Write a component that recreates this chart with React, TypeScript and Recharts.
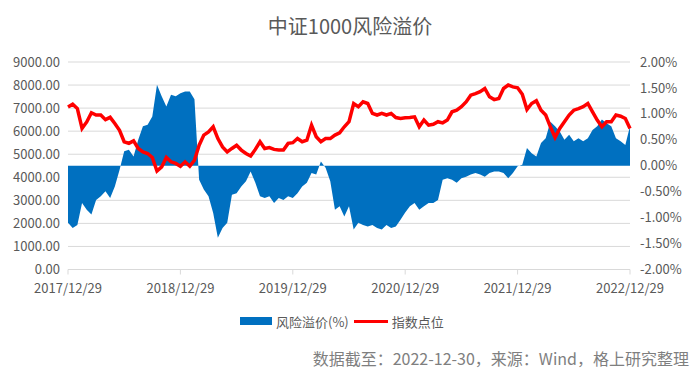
import React from "react";
import {
  ComposedChart,
  Area,
  Line,
  XAxis,
  YAxis,
  CartesianGrid,
} from "recharts";

const FONT = '"Noto Sans CJK SC", "Noto Sans", sans-serif';

// roughly semi-monthly samples, 2017/12/29 -> 2022/12/29
const indexPoints = [
  7050, 7170, 6980, 6120, 6400, 6800, 6700, 6700, 6500, 6600, 6330, 6040, 5540, 5470, 5580, 5250, 5100, 5030, 4860, 4270, 4450, 4860, 4670, 4600,
  4480, 4670, 4480, 4740, 5390, 5830, 5970, 6190, 5680, 5320, 5100, 5250, 5390, 5180, 5030, 4920, 5210, 5540, 5250, 5290, 5210, 5180, 5180, 5470,
  5500, 5680, 5540, 5610, 6260, 5760, 5540, 5680, 5680, 5830, 5930, 6190, 6410, 7200, 7060, 7270, 7200, 6770, 6700, 6770, 6700, 6770, 6590, 6550,
  6580, 6590, 6620, 6190, 6480, 6260, 6300, 6410, 6360, 6480, 6840, 6910, 7060, 7270, 7560, 7630, 7710, 7850, 7490, 7370, 7420, 7850, 8000, 7920,
  7880, 7600, 6940, 7200, 7320, 6910, 6700, 6190, 5730, 6120, 6410, 6700, 6910, 6980, 7060, 7200, 6840, 6480, 6190, 6410, 6410, 6700, 6650, 6550,
  6120,
];

const riskPremium = [
  -1.1, -1.2, -1.14, -0.72, -0.85, -0.94, -0.66, -0.59, -0.49, -0.62, -0.4, -0.08, 0.28, 0.31, 0.18, 0.5, 0.76, 0.79, 0.95, 1.56, 1.34, 1.14, 1.37, 1.34,
  1.4, 1.43, 1.43, 1.28, -0.27, -0.46, -0.59, -0.91, -1.39, -1.2, -1.1, -0.56, -0.53, -0.4, -0.3, -0.11, -0.33, -0.59, -0.62, -0.59, -0.72, -0.62, -0.66, -0.59,
  -0.62, -0.53, -0.4, -0.33, -0.14, -0.17, 0.08, -0.04, -0.3, -0.85, -0.78, -0.98, -0.78, -1.23, -1.1, -1.14, -1.17, -1.14, -1.2, -1.23, -1.14, -1.2, -1.17, -1.04,
  -0.9, -0.78, -0.72, -0.85, -0.78, -0.72, -0.72, -0.66, -0.27, -0.24, -0.27, -0.33, -0.24, -0.21, -0.17, -0.14, -0.17, -0.21, -0.14, -0.11, -0.11, -0.14, -0.24, -0.14,
  -0.01, 0.02, 0.34, 0.24, 0.18, 0.44, 0.53, 0.85, 0.76, 0.66, 0.5, 0.6, 0.47, 0.53, 0.47, 0.53, 0.69, 0.76, 0.89, 0.82, 0.76, 0.53, 0.47, 0.4,
  0.76,
];

const dateTicks = ["2017/12/29", "2018/12/29", "2019/12/29", "2020/12/29", "2021/12/29", "2022/12/29"];
const leftTicks = [0, 1000, 2000, 3000, 4000, 5000, 6000, 7000, 8000, 9000];
const rightTicks = [-2, -1.5, -1, -0.5, 0, 0.5, 1, 1.5, 2];

const STEPS_PER_YEAR = 24;

const data = indexPoints.map((v, i) => ({ i, index: v, premium: riskPremium[i] }));

const tickStyle = { fontSize: 13, fill: "#595959", fontFamily: FONT };

export default function App() {
  return (
    <div
      style={{
        position: "absolute",
        left: 0,
        top: 0,
        width: 700,
        height: 377,
        background: "#fff",
        fontFamily: FONT,
      }}
    >
      <div
        style={{
          position: "absolute",
          top: 12,
          left: 0,
          width: 700,
          textAlign: "center",
          fontSize: 20,
          lineHeight: "28px",
          color: "#595959",
        }}
      >
        中证1000风险溢价
      </div>
      <ComposedChart
        width={700}
        height={377}
        data={data}
        margin={{ top: 62, right: 8, bottom: 77.5, left: 8 }}
      >
        <CartesianGrid yAxisId="left" vertical={false} stroke="#d9d9d9" />
        <XAxis
          dataKey="i"
          type="number"
          domain={[0, 120]}
          ticks={dateTicks.map((_, k) => k * STEPS_PER_YEAR)}
          tickFormatter={(v: number) => dateTicks[Math.round(v / STEPS_PER_YEAR)]}
          tick={tickStyle}
          stroke="#d9d9d9"
          tickSize={5}
          tickMargin={9}
          height={30}
          interval={0}
        />
        <YAxis
          yAxisId="left"
          domain={[0, 9000]}
          ticks={leftTicks}
          tickFormatter={(v: number) => v.toFixed(2)}
          tick={tickStyle}
          axisLine={false}
          tickLine={false}
          width={60}
          interval={0}
        />
        <YAxis
          yAxisId="right"
          orientation="right"
          domain={[-2, 2]}
          ticks={rightTicks}
          tickFormatter={(v: number) => v.toFixed(2) + "%"}
          tick={tickStyle}
          axisLine={false}
          tickLine={false}
          tickMargin={4}
          width={62}
          interval={0}
        />
        <Area
          yAxisId="right"
          dataKey="premium"
          type="linear"
          baseValue={0}
          fill="#0070C0"
          fillOpacity={1}
          stroke="none"
          isAnimationActive={false}
        />
        <Line
          yAxisId="left"
          dataKey="index"
          type="linear"
          stroke="#FF0000"
          strokeWidth={3.5}
          dot={false}
          isAnimationActive={false}
        />
      </ComposedChart>
      <div
        style={{
          position: "absolute",
          top: 312,
          left: 240,
          height: 18,
          display: "flex",
          alignItems: "center",
          fontSize: 13,
          color: "#595959",
        }}
      >
        <span style={{ display: "inline-block", width: 32, height: 8, background: "#0070C0", marginRight: 4 }} />
        <span>风险溢价(%)</span>
        <span style={{ display: "inline-block", width: 34, height: 3, background: "#FF0000", margin: "0 4px 0 5px" }} />
        <span>指数点位</span>
      </div>
      <div
        style={{
          position: "absolute",
          top: 347,
          right: 11,
          fontSize: 16,
          lineHeight: "22px",
          color: "#7f7f7f",
          whiteSpace: "nowrap",
        }}
      >
        数据截至：2022-12-30，来源：Wind，格上研究整理
      </div>
    </div>
  );
}
